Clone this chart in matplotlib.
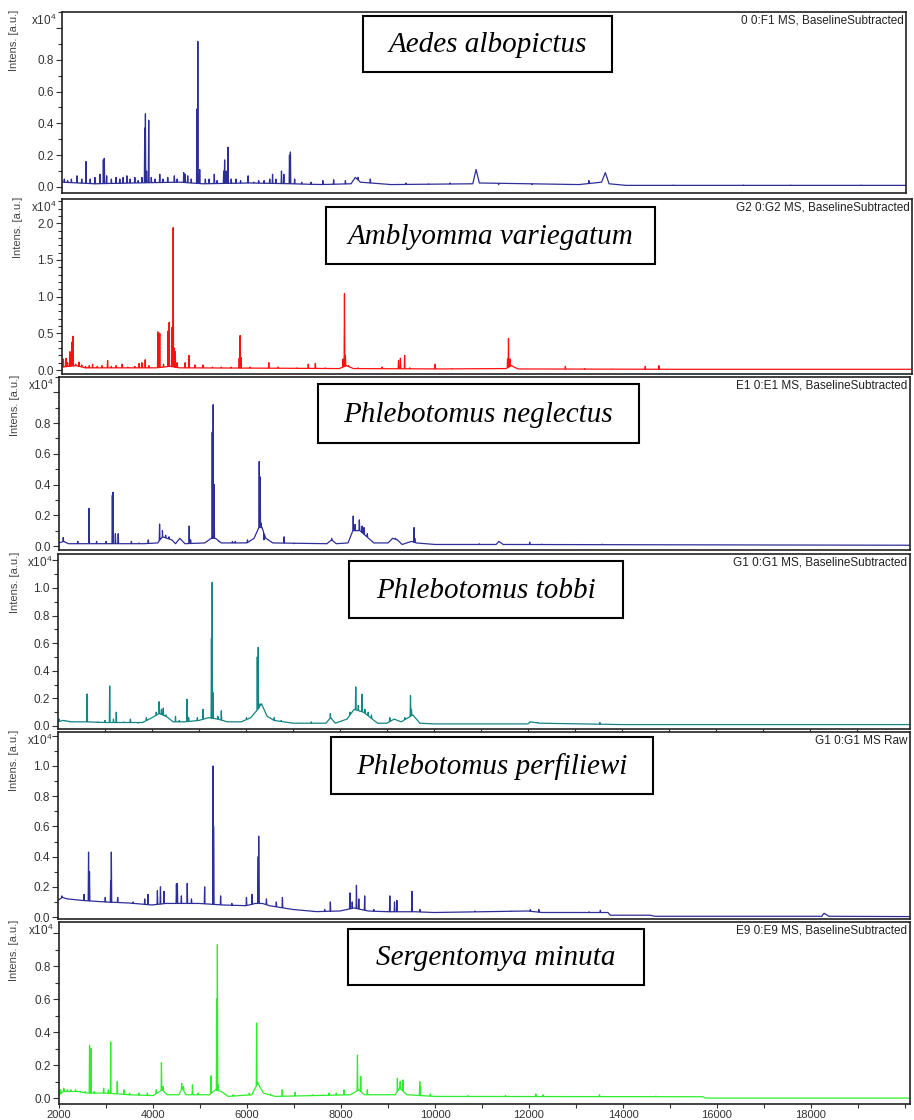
import numpy as np
import matplotlib
matplotlib.use("Agg")
import matplotlib.pyplot as plt
from matplotlib.patches import Rectangle
from matplotlib.ticker import MultipleLocator

plt.rcParams["font.family"] = ["Liberation Sans", "DejaVu Sans"]
plt.rcParams["mathtext.fontset"] = "custom"
plt.rcParams["mathtext.rm"] = "Liberation Sans"

# ---- data: (m/z, intensity x1e4) ----
species = ["Aedes albopictus", "Amblyomma variegatum", "Phlebotomus neglectus",
           "Phlebotomus tobbi", "Phlebotomus perfiliewi", "Sergentomya minuta"]
run_labels = ["0 0:F1 MS, BaselineSubtracted", "G2 0:G2 MS, BaselineSubtracted",
              "E1 0:E1 MS, BaselineSubtracted", "G1 0:G1 MS, BaselineSubtracted",
              "G1 0:G1 MS Raw", "E9 0:E9 MS, BaselineSubtracted"]

base_aedes = [(2000, 0.03), (2700, 0.02), (3500, 0.025), (4500, 0.03), (5000, 0.02),
              (6000, 0.025), (6900, 0.02), (7500, 0.015), (8150, 0.02), (8240, 0.06),
              (8350, 0.03), (9000, 0.015), (10740, 0.02), (10810, 0.11), (10880, 0.025),
              (13000, 0.015), (13480, 0.03), (13560, 0.09), (13640, 0.02), (14000, 0.01),
              (20100, 0.01)]
peaks_aedes = [(2050, 0.05), (2120, 0.04), (2200, 0.05), (2320, 0.07), (2420, 0.05),
               (2510, 0.16), (2600, 0.05), (2700, 0.06), (2810, 0.08), (2880, 0.17),
               (2900, 0.18), (2950, 0.07), (3050, 0.05), (3150, 0.06), (3230, 0.05),
               (3300, 0.06), (3380, 0.07), (3450, 0.05), (3550, 0.06), (3620, 0.04),
               (3700, 0.06), (3760, 0.37), (3775, 0.46), (3800, 0.10), (3845, 0.42),
               (3900, 0.06), (3980, 0.05), (4080, 0.08), (4150, 0.05), (4250, 0.06),
               (4390, 0.07), (4450, 0.05), (4590, 0.09), (4620, 0.08), (4675, 0.07),
               (4750, 0.05), (4870, 0.49), (4890, 0.915), (4930, 0.11), (5050, 0.05),
               (5130, 0.05), (5240, 0.08), (5300, 0.04), (5440, 0.10), (5460, 0.17),
               (5490, 0.10), (5530, 0.25), (5600, 0.05), (5700, 0.05), (5800, 0.04),
               (5960, 0.07), (6080, 0.03), (6185, 0.04), (6300, 0.04), (6420, 0.05),
               (6480, 0.08), (6550, 0.05), (6670, 0.10), (6720, 0.08), (6840, 0.20),
               (6860, 0.22), (6950, 0.05), (7100, 0.03), (7300, 0.03), (7550, 0.04),
               (7780, 0.045), (8030, 0.04), (8300, 0.06), (8560, 0.05), (9320, 0.025),
               (9800, 0.02), (10260, 0.025), (11290, 0.015), (12000, 0.015),
               (12810, 0.015), (13210, 0.04), (15000, 0.012), (16500, 0.012),
               (17500, 0.012), (19000, 0.012)]

base_amblyomma = [(2000, 0.04), (2300, 0.06), (2500, 0.03), (4000, 0.03), (4300, 0.05),
                  (4500, 0.03), (6500, 0.025), (7900, 0.02), (8050, 0.06), (8200, 0.02),
                  (10000, 0.015), (11450, 0.02), (11560, 0.06), (11700, 0.015),
                  (15000, 0.01), (20100, 0.01)]
peaks_amblyomma = [(2030, 0.15), (2085, 0.16), (2120, 0.10), (2170, 0.25), (2210, 0.38),
                   (2235, 0.46), (2290, 0.08), (2360, 0.11), (2420, 0.07), (2500, 0.05),
                   (2580, 0.06), (2650, 0.08), (2750, 0.05), (2850, 0.06), (2970, 0.13),
                   (3050, 0.05), (3150, 0.06), (3280, 0.08), (3400, 0.04), (3550, 0.05),
                   (3640, 0.09), (3700, 0.10), (3770, 0.14), (3850, 0.06), (4040, 0.52),
                   (4080, 0.50), (4160, 0.08), (4255, 0.53), (4280, 0.65), (4340, 0.58),
                   (4365, 1.94), (4390, 0.30), (4410, 0.25), (4450, 0.10), (4620, 0.10),
                   (4700, 0.20), (4830, 0.07), (5000, 0.07), (5200, 0.04), (5390, 0.04),
                   (5600, 0.04), (5770, 0.16), (5790, 0.47), (5810, 0.17), (6000, 0.04),
                   (6400, 0.10), (6600, 0.04), (7000, 0.03), (7240, 0.08), (7390, 0.09),
                   (7600, 0.03), (7980, 0.15), (8010, 1.04), (8030, 0.20), (8100, 0.06),
                   (8300, 0.03), (8600, 0.02), (8810, 0.04), (9160, 0.13), (9200, 0.16),
                   (9290, 0.20), (9400, 0.03), (9940, 0.08), (10300, 0.02), (10800, 0.02),
                   (11480, 0.15), (11500, 0.43), (11530, 0.15), (12710, 0.05),
                   (13120, 0.02), (13700, 0.015), (14410, 0.05), (14700, 0.06)]

base_neglectus = [(2000, 0.02), (2100, 0.03), (2200, 0.015), (3800, 0.015), (4100, 0.02),
                  (4200, 0.06), (4400, 0.04), (4480, 0.015), (4570, 0.05), (4680, 0.015),
                  (5100, 0.02), (5240, 0.05), (5330, 0.05), (5450, 0.02), (6000, 0.02),
                  (6150, 0.05), (6250, 0.12), (6320, 0.12), (6400, 0.05), (6550, 0.02),
                  (7700, 0.015), (7800, 0.04), (7900, 0.015), (8150, 0.02), (8250, 0.10),
                  (8400, 0.10), (8550, 0.06), (8700, 0.02), (9000, 0.02), (9100, 0.05),
                  (9200, 0.04), (9300, 0.01), (9500, 0.03), (9600, 0.02), (10000, 0.01),
                  (11300, 0.01), (11360, 0.03), (11450, 0.01), (20100, 0.005)]
peaks_neglectus = [(2090, 0.055), (2400, 0.03), (2640, 0.245), (2800, 0.03), (3000, 0.03),
                   (3135, 0.33), (3150, 0.35), (3200, 0.08), (3260, 0.08), (3540, 0.03),
                   (3700, 0.02), (3900, 0.04), (4140, 0.143), (4200, 0.10), (4270, 0.07),
                   (4340, 0.06), (4770, 0.13), (4800, 0.04), (5190, 0.04), (5260, 0.74),
                   (5280, 0.92), (5300, 0.40), (5400, 0.03), (5690, 0.03), (5750, 0.03),
                   (6010, 0.04), (6260, 0.55), (6280, 0.45), (6300, 0.15), (6360, 0.04),
                   (6790, 0.06), (7000, 0.015), (7660, 0.015), (7800, 0.05), (8260, 0.195),
                   (8300, 0.14), (8390, 0.17), (8450, 0.13), (8490, 0.12), (8560, 0.08),
                   (9090, 0.05), (9160, 0.05), (9555, 0.12), (9570, 0.05), (10940, 0.015),
                   (12015, 0.025), (12270, 0.012), (13560, 0.012)]

base_tobbi = [(2000, 0.03), (2100, 0.04), (2300, 0.03), (2600, 0.03), (3000, 0.025),
              (3800, 0.025), (4000, 0.06), (4150, 0.09), (4300, 0.07), (4450, 0.03),
              (4700, 0.03), (5000, 0.04), (5200, 0.06), (5400, 0.05), (5600, 0.03),
              (5900, 0.03), (6100, 0.06), (6250, 0.12), (6330, 0.16), (6450, 0.07),
              (6600, 0.04), (7000, 0.02), (7700, 0.02), (7800, 0.06), (7900, 0.02),
              (8150, 0.05), (8300, 0.12), (8500, 0.10), (8650, 0.06), (8800, 0.02),
              (9000, 0.02), (9150, 0.05), (9300, 0.03), (9450, 0.06), (9550, 0.08),
              (9700, 0.02), (10000, 0.015), (12000, 0.015), (12050, 0.03), (12250, 0.02),
              (14000, 0.01), (20100, 0.01)]
peaks_tobbi = [(2020, 0.05), (2150, 0.04), (2250, 0.03), (2400, 0.03), (2520, 0.03),
               (2620, 0.232), (2700, 0.03), (2850, 0.03), (3000, 0.04), (3100, 0.29),
               (3180, 0.05), (3240, 0.10), (3400, 0.03), (3540, 0.05), (3700, 0.02),
               (3880, 0.06), (4090, 0.10), (4150, 0.176), (4200, 0.12), (4240, 0.13),
               (4300, 0.08), (4500, 0.07), (4580, 0.04), (4745, 0.193), (4780, 0.06),
               (4965, 0.06), (5085, 0.12), (5265, 0.635), (5280, 1.04), (5300, 0.24),
               (5400, 0.07), (5475, 0.11), (5700, 0.03), (6010, 0.06), (6240, 0.50),
               (6260, 0.57), (6300, 0.16), (6600, 0.06), (6750, 0.04), (7390, 0.03),
               (7795, 0.09), (8210, 0.10), (8335, 0.283), (8390, 0.15), (8470, 0.23),
               (8530, 0.12), (8600, 0.10), (8670, 0.08), (9060, 0.06), (9160, 0.05),
               (9380, 0.06), (9500, 0.22), (9520, 0.12), (10890, 0.015), (12040, 0.03),
               (12210, 0.025), (13530, 0.025)]

base_perfiliewi = [(2000, 0.11), (2090, 0.13), (2200, 0.12), (2500, 0.11), (3000, 0.10),
                   (3500, 0.093), (4000, 0.08), (4300, 0.09), (4600, 0.09), (5000, 0.09),
                   (5500, 0.08), (6000, 0.075), (6200, 0.09), (6350, 0.09), (6500, 0.075),
                   (7000, 0.05), (7500, 0.036), (8000, 0.04), (8300, 0.06), (8600, 0.04),
                   (9000, 0.035), (9600, 0.035), (10000, 0.03), (11000, 0.035),
                   (12000, 0.04), (12300, 0.03), (13000, 0.03), (13700, 0.03),
                   (13750, 0.012), (14600, 0.012), (14700, 0.005), (18250, 0.005),
                   (18300, 0.025), (18400, 0.005), (20100, 0.003)]
peaks_perfiliewi = [(2085, 0.14), (2555, 0.15), (2650, 0.43), (2670, 0.30), (3005, 0.13),
                    (3120, 0.24), (3135, 0.43), (3270, 0.13), (3600, 0.10), (3845, 0.12),
                    (3915, 0.15), (4115, 0.174), (4180, 0.20), (4255, 0.17), (4520, 0.22),
                    (4540, 0.22), (4625, 0.14), (4750, 0.223), (4840, 0.12), (5120, 0.20),
                    (5300, 1.0), (5310, 0.6), (5460, 0.14), (5700, 0.09), (6010, 0.13),
                    (6130, 0.15), (6260, 0.40), (6270, 0.536), (6435, 0.12), (6645, 0.10),
                    (6775, 0.13), (7675, 0.05), (7795, 0.10), (8210, 0.16), (8260, 0.10),
                    (8350, 0.21), (8400, 0.12), (8525, 0.14), (8720, 0.05), (9060, 0.14),
                    (9160, 0.10), (9210, 0.11), (9530, 0.17), (9700, 0.05), (10870, 0.04),
                    (11640, 0.04), (12050, 0.05), (12230, 0.05), (13300, 0.035),
                    (13540, 0.045)]

base_minuta = [(2000, 0.02), (2100, 0.04), (2400, 0.04), (2600, 0.03), (3000, 0.03),
               (3500, 0.02), (4000, 0.015), (4200, 0.05), (4300, 0.02), (4550, 0.02),
               (4620, 0.06), (4700, 0.02), (5200, 0.02), (5330, 0.05), (5450, 0.04),
               (5600, 0.01), (6100, 0.02), (6230, 0.09), (6350, 0.03), (6600, 0.01),
               (8200, 0.02), (8380, 0.05), (8500, 0.02), (9150, 0.02), (9250, 0.06),
               (9400, 0.02), (10000, 0.01), (15700, 0.008), (15750, 0.0), (20100, 0.0)]
peaks_minuta = [(2035, 0.05), (2100, 0.06), (2180, 0.05), (2260, 0.05), (2350, 0.05),
                (2450, 0.04), (2560, 0.04), (2650, 0.32), (2680, 0.30), (2750, 0.04),
                (2950, 0.06), (3050, 0.05), (3100, 0.34), (3240, 0.10), (3380, 0.05),
                (3500, 0.03), (3700, 0.03), (3880, 0.03), (4070, 0.05), (4180, 0.214),
                (4215, 0.07), (4610, 0.09), (4650, 0.07), (4840, 0.08), (4960, 0.03),
                (5235, 0.135), (5355, 0.60), (5370, 0.93), (5390, 0.08), (5700, 0.02),
                (6050, 0.03), (6205, 0.455), (6225, 0.10), (6500, 0.025), (6750, 0.05),
                (7020, 0.035), (7400, 0.02), (7745, 0.03), (7900, 0.03), (8065, 0.05),
                (8350, 0.26), (8420, 0.13), (8560, 0.05), (8800, 0.02), (9200, 0.12),
                (9260, 0.10), (9320, 0.11), (9675, 0.10), (9690, 0.07), (9900, 0.025),
                (10700, 0.015), (11500, 0.015), (12145, 0.025), (12300, 0.02),
                (13500, 0.02), (14700, 0.012)]

bases = [base_aedes, base_amblyomma, base_neglectus, base_tobbi, base_perfiliewi, base_minuta]
peaks = [peaks_aedes, peaks_amblyomma, peaks_neglectus, peaks_tobbi, peaks_perfiliewi, peaks_minuta]
ytick_vals = [[0, 0.2, 0.4, 0.6, 0.8, 1.0], [0, 0.5, 1.0, 1.5, 2.0],
              [0, 0.2, 0.4, 0.6, 0.8, 1.0], [0, 0.2, 0.4, 0.6, 0.8, 1.0, 1.2],
              [0, 0.2, 0.4, 0.6, 0.8, 1.0, 1.2], [0, 0.2, 0.4, 0.6, 0.8, 1.0]]
ytick_shown = [5, 5, 5, 6, 6, 5]  # how many labels are printed (top one hidden)
xtick_labels = ["2000", "4000", "6000", "8000", "10000", "12000", "14000", "16000", "18000"]

# ---- layout (pixels) ----
W, H = 914, 1120
colors = ["#2e2e98", "#ff1010", "#2e2e98", "#138585", "#2e2e98", "#2cee2c"]
rects = [(62, 906, 12, 193), (62, 912, 199, 374), (59, 910, 377, 550),
         (58, 910, 554, 729), (58, 910, 732, 919), (59, 910, 922, 1104)]
ylims = [(-0.038, 1.10), (-0.054, 2.33), (-0.026, 1.10),
         (-0.022, 1.246), (-0.013, 1.225), (-0.036, 1.067)]
boxes = [(363, 612, 16, 72), (326, 655, 207, 264), (318, 639, 384, 443),
         (349, 623, 561, 618), (331, 653, 737, 794), (348, 644, 929, 985)]
ylab_x = [14, 18, 15, 15, 14, 14]

fig = plt.figure(figsize=(W / 100, H / 100), dpi=100)


def draw_spectrum(ax, base, pk, color, hw=8):
    bx, by = map(np.array, zip(*base))
    px, ph = map(np.array, zip(*pk))
    xs = np.concatenate([bx, px - hw, px, px + hw])
    ys = np.concatenate([by, np.interp(px - hw, bx, by), ph, np.interp(px + hw, bx, by)])
    order = np.argsort(xs, kind="stable")
    ax.plot(xs[order], ys[order], color=color, lw=0.9)


for i in range(6):
    l, r, t, b = rects[i]
    ax = fig.add_axes([l / W, 1 - b / H, (r - l) / W, (b - t) / H])
    draw_spectrum(ax, bases[i], peaks[i], colors[i])
    ax.set_xlim(2000, 2000 + (r - l) / 47 * 1000)
    ax.set_ylim(*ylims[i])

    vals = ytick_vals[i]
    ax.set_yticks(vals)
    ax.set_yticklabels(["%.1f" % v if k < ytick_shown[i] else "" for k, v in enumerate(vals)])
    ax.yaxis.set_minor_locator(MultipleLocator(0.1))
    ax.tick_params(axis="y", which="major", direction="out", length=4, width=0.8,
                   labelsize=8.5, colors="#333333", pad=2)
    ax.tick_params(axis="y", which="minor", direction="out", length=3, width=0.8,
                   colors="#333333")

    if i == 5:
        ax.set_xticks(np.arange(2000, 20000, 2000))
        ax.set_xticklabels(xtick_labels)
        ax.xaxis.set_minor_locator(MultipleLocator(1000))
        ax.tick_params(axis="x", which="both", direction="out", length=3, width=0.8,
                       labelsize=8, colors="#333333", pad=1)
    elif i == 3:
        ax.set_xticks(np.arange(3000, 20000, 1000))
        ax.set_xticklabels([])
        ax.tick_params(axis="x", direction="out", length=3, width=0.8, colors="#333333")
    else:
        ax.set_xticks([])

    for s in ax.spines.values():
        s.set_linewidth(1.2)
        s.set_color("#222222")

    ax.text(0.997, 0.985, run_labels[i], transform=ax.transAxes, ha="right", va="top",
            fontsize=8.5, color="#222222")

    fig.text((l - 5) / W, 1 - (t + 8) / H, r"x10$^4$", ha="right", va="center",
             fontsize=8.5, color="#333333")
    fig.text(ylab_x[i] / W, 1 - (t - 2) / H, "Intens. [a.u.]", rotation=90,
             ha="center", va="top", fontsize=8, color="#444444")

    x0, x1, y0, y1 = boxes[i]
    fig.add_artist(Rectangle((x0 / W, 1 - y1 / H), (x1 - x0) / W, (y1 - y0) / H,
                             transform=fig.transFigure, facecolor="white",
                             edgecolor="black", lw=1.5, zorder=5))
    fig.text((x0 + x1) / 2 / W, 1 - ((y0 + y1) / 2 + 1) / H, species[i],
             family="Liberation Serif", fontstyle="italic", fontsize=21,
             ha="center", va="center", zorder=6)

fig.savefig("out.png", dpi=100)
